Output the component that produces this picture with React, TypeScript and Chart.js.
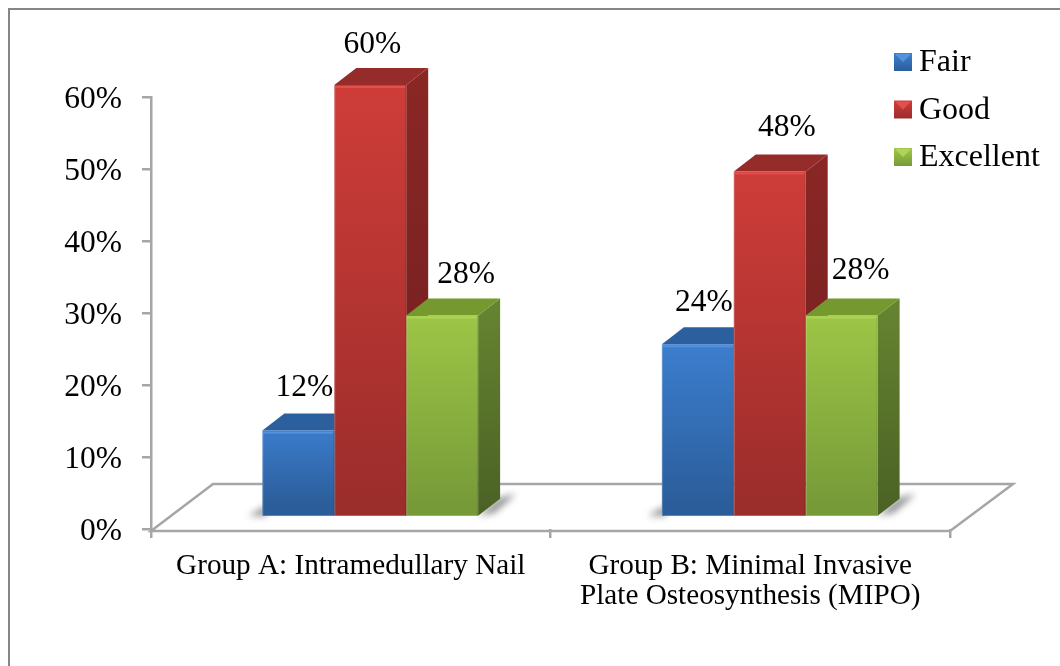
import React, { useEffect, useRef } from "react";
import { Chart, registerables } from "chart.js";

Chart.register(...registerables);

const categories = [
  ["Group A: Intramedullary Nail"],
  ["Group B: Minimal Invasive", "Plate Osteosynthesis (MIPO)"],
];
const fair = [12, 24];
const good = [60, 48];
const excellent = [28, 28];

const SERIF = '"Liberation Serif", "Times New Roman", serif';
const DEPTH_X = 22;
const DEPTH_Y = 17;
// The bars stand on the floor, a little behind the axis baseline.
const BAR_SHIFT_X = 19.5;
const BAR_SHIFT_Y = -12;

// Each series' colours: front gradient, side gradient, roof, bevel highlight.
const palettes = [
  { front: ["#3d80d2", "#2b5d9a"], side: ["#2a5b96", "#1f4472"], top: "#2c5f9e", glow: "#5592dc" },
  { front: ["#d03d39", "#9b2d2b"], side: ["#8a2725", "#6f1f1e"], top: "#962c2a", glow: "#e2504c" },
  { front: ["#9fc947", "#779a38"], side: ["#668531", "#4a6124"], top: "#76992f", glow: "#aed558" },
];

// Hand-placed offsets of each value label from its bar's top centre.
const labelNudges = [
  [[6, -45], [6, -43]],
  [[2, -42], [17, -45]],
  [[24, -42], [19, -46]],
];

function vertical(ctx: CanvasRenderingContext2D, top: number, bottom: number, stops: string[]) {
  const g = ctx.createLinearGradient(0, top, 0, bottom);
  g.addColorStop(0, stops[0]);
  g.addColorStop(1, stops[1]);
  return g;
}

const framePlugin = {
  id: "frame",
  beforeDraw(chart: any) {
    const { ctx, scales } = chart;
    const x0 = scales.x.left;
    const x1 = scales.x.right;
    const y0 = scales.y.bottom + 2;
    ctx.save();
    ctx.strokeStyle = "#868686";
    ctx.lineWidth = 2;
    ctx.beginPath();
    ctx.moveTo(1060, 9);
    ctx.lineTo(9, 9);
    ctx.lineTo(9, 666);
    ctx.stroke();

    // Floor parallelogram behind the bars; its front edge is the category axis line.
    ctx.lineWidth = 2.5;
    ctx.strokeStyle = "#a6a6a6";
    ctx.beginPath();
    ctx.moveTo(x0, y0);
    ctx.lineTo(x0 + 62, y0 - 47);
    ctx.lineTo(x1 + 63, y0 - 47);
    ctx.lineTo(x1, y0);
    ctx.closePath();
    ctx.stroke();
    ctx.restore();
  },
};

const bars3dPlugin = {
  id: "bars3d",
  beforeDatasetsDraw(chart: any) {
    const { ctx } = chart;
    ctx.save();
    ctx.translate(BAR_SHIFT_X, BAR_SHIFT_Y);

    // Soft contact shadows cast on the floor either side of each cluster.
    const firstBars = chart.getDatasetMeta(0).data;
    const lastBars = chart.getDatasetMeta(2).data;
    firstBars.forEach((first: any, i: number) => {
      const last = lastBars[i];
      const l = first.x - first.width / 2;
      const r = last.x + last.width / 2;
      const b = first.base;
      ctx.save();
      ctx.filter = "blur(3.5px)";
      ctx.fillStyle = "rgba(60,60,60,0.6)";
      ctx.beginPath();
      ctx.moveTo(l + 4, b);
      ctx.lineTo(l - 14, b);
      ctx.lineTo(l + 4, b - 10);
      ctx.closePath();
      ctx.fill();
      ctx.beginPath();
      ctx.moveTo(r, b);
      ctx.lineTo(r + DEPTH_X, b - DEPTH_Y - 1);
      ctx.lineTo(r + DEPTH_X + 16, b - DEPTH_Y - 5);
      ctx.lineTo(r + 16, b - 3);
      ctx.closePath();
      ctx.fill();
      ctx.restore();
    });

    // Side walls and roofs, drawn series by series so nearer bars overlap them.
    chart.data.datasets.forEach((_: any, di: number) => {
      const p = palettes[di];
      chart.getDatasetMeta(di).data.forEach((bar: any) => {
        const l = bar.x - bar.width / 2;
        const r = bar.x + bar.width / 2;
        const t = bar.y;
        const b = bar.base;
        ctx.fillStyle = vertical(ctx, t - DEPTH_Y, b, p.side);
        ctx.beginPath();
        ctx.moveTo(r, t);
        ctx.lineTo(r + DEPTH_X, t - DEPTH_Y);
        ctx.lineTo(r + DEPTH_X, b - DEPTH_Y);
        ctx.lineTo(r, b);
        ctx.closePath();
        ctx.fill();
        ctx.fillStyle = p.top;
        ctx.beginPath();
        ctx.moveTo(l, t);
        ctx.lineTo(l + DEPTH_X, t - DEPTH_Y);
        ctx.lineTo(r + DEPTH_X, t - DEPTH_Y);
        ctx.lineTo(r, t);
        ctx.closePath();
        ctx.fill();
      });
    });
    ctx.restore();
  },
  beforeDatasetDraw(chart: any) {
    chart.ctx.save();
    chart.ctx.translate(BAR_SHIFT_X, BAR_SHIFT_Y);
  },
  afterDatasetDraw(chart: any, args: any) {
    const { ctx } = chart;
    const p = palettes[args.index];
    // Bevel highlight along the top edge of each front face, fading downward.
    chart.getDatasetMeta(args.index).data.forEach((bar: any) => {
      const l = bar.x - bar.width / 2;
      ctx.save();
      ctx.filter = "blur(0.6px)";
      ctx.fillStyle = p.glow;
      ctx.fillRect(l + 1, bar.y + 1, bar.width - 2, 2);
      ctx.restore();
      // Thin seam between neighbouring faces.
      ctx.fillStyle = "rgba(255,255,255,0.22)";
      ctx.fillRect(l, bar.y, 1, bar.base - bar.y);
      ctx.fillStyle = "rgba(0,0,0,0.12)";
      ctx.fillRect(l + bar.width - 1, bar.y, 1, bar.base - bar.y);
    });
    ctx.restore();
  },
};

const labelsPlugin = {
  id: "valueLabels",
  afterDatasetsDraw(chart: any) {
    const { ctx } = chart;
    ctx.save();
    ctx.font = `31.5px ${SERIF}`;
    ctx.fillStyle = "#000";
    ctx.textAlign = "center";
    ctx.textBaseline = "alphabetic";
    chart.data.datasets.forEach((ds: any, di: number) => {
      chart.getDatasetMeta(di).data.forEach((bar: any, i: number) => {
        const [dx, dy] = labelNudges[di][i];
        ctx.fillText(`${ds.data[i]}%`, bar.x + BAR_SHIFT_X + dx, bar.y + BAR_SHIFT_Y + dy + 10);
      });
    });
    ctx.restore();
  },
};

const legendPlugin = {
  id: "sideLegend",
  afterDraw(chart: any) {
    const { ctx } = chart;
    ctx.save();
    ctx.font = `32px ${SERIF}`;
    ctx.textBaseline = "alphabetic";
    chart.data.datasets.forEach((ds: any, di: number) => {
      const p = palettes[di];
      const x = 894;
      const y = 53 + di * 47.5;
      const s = 18;
      ctx.fillStyle = vertical(ctx, y, y + s, p.front);
      ctx.fillRect(x, y, s, s);
      ctx.fillStyle = p.glow;
      ctx.beginPath();
      ctx.moveTo(x + 1, y + 1);
      ctx.lineTo(x + s - 1, y + 1);
      ctx.lineTo(x + s / 2, y + s / 2);
      ctx.closePath();
      ctx.fill();
      ctx.fillStyle = "#000";
      ctx.fillText(ds.label, 919, y + 18);
    });
    ctx.restore();
  },
};

export default function App() {
  const ref = useRef<HTMLCanvasElement>(null);
  useEffect(() => {
    const canvas = ref.current;
    if (!canvas) return;
    const makeFill = (di: number) => (c: any) => {
      const area = c.chart.chartArea;
      if (!area) return palettes[di].front[0];
      const top = c.parsed ? c.chart.scales.y.getPixelForValue(c.parsed.y) : area.top;
      return vertical(c.chart.ctx, top + BAR_SHIFT_Y, area.bottom + BAR_SHIFT_Y, palettes[di].front);
    };
    const chart = new Chart(canvas, {
      type: "bar",
      data: {
        labels: categories,
        datasets: [
          { label: "Fair", data: fair, backgroundColor: makeFill(0) },
          { label: "Good", data: good, backgroundColor: makeFill(1) },
          { label: "Excellent", data: excellent, backgroundColor: makeFill(2) },
        ],
      },
      options: {
        responsive: false,
        animation: false,
        categoryPercentage: 0.54,
        barPercentage: 1,
        layout: { padding: { left: 0, right: 110, top: 97, bottom: 0 } },
        plugins: { legend: { display: false }, tooltip: { enabled: false } },
        scales: {
          x: {
            position: "bottom",
            grid: { display: true, drawOnChartArea: false, drawTicks: true, tickLength: 9, color: "#a6a6a6", lineWidth: 2.5 },
            border: { display: false },
            ticks: { color: "#000", font: { family: SERIF, size: 29.2, lineHeight: 1.03 }, padding: 13, maxRotation: 0, autoSkip: false },
            afterFit(scale: any) { scale.height = 137; },
          },
          y: {
            min: 0,
            max: 60,
            grid: { display: true, drawOnChartArea: false, tickLength: 9, color: "#a6a6a6", lineWidth: 2.5 },
            border: { color: "#a6a6a6", width: 2.5 },
            ticks: { stepSize: 10, color: "#000", padding: 20, labelOffset: 3, font: { family: SERIF, size: 31.5 }, callback: (v: any) => `${v}%` },
            afterFit(scale: any) { scale.width = 151; },
          },
        },
      },
      plugins: [framePlugin, bars3dPlugin, labelsPlugin, legendPlugin],
    } as any);
    return () => chart.destroy();
  }, []);
  return (
    <div style={{ position: "fixed", left: 0, top: 0, width: 1060, height: 666, background: "#fff" }}>
      <canvas ref={ref} width={1060} height={666} style={{ display: "block" }} />
    </div>
  );
}
